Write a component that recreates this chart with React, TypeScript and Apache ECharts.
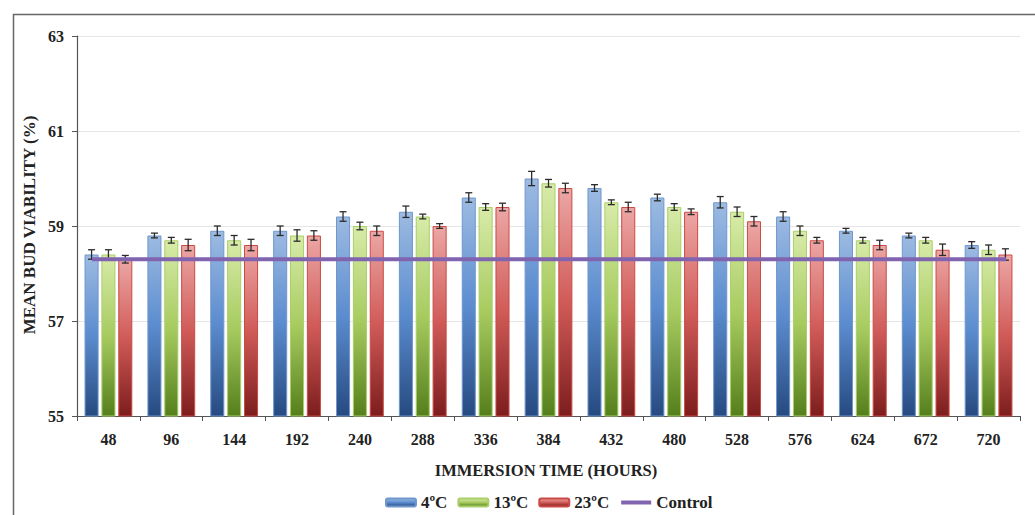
import React, { useEffect, useRef } from "react";
import * as echarts from "echarts";

const categories = ["48", "96", "144", "192", "240", "288", "336", "384", "432", "480", "528", "576", "624", "672", "720"];
const s4 = [58.4, 58.8, 58.9, 58.9, 59.2, 59.3, 59.6, 60.0, 59.8, 59.6, 59.5, 59.2, 58.9, 58.8, 58.6];
const s13 = [58.4, 58.7, 58.7, 58.8, 59.0, 59.2, 59.4, 59.9, 59.5, 59.4, 59.3, 58.9, 58.7, 58.7, 58.5];
const s23 = [58.3, 58.6, 58.6, 58.8, 58.9, 59.0, 59.4, 59.8, 59.4, 59.3, 59.1, 58.7, 58.6, 58.5, 58.4];
const e4 = [0.1, 0.05, 0.1, 0.1, 0.1, 0.12, 0.1, 0.15, 0.07, 0.07, 0.12, 0.1, 0.05, 0.05, 0.07];
const e13 = [0.1, 0.06, 0.1, 0.12, 0.08, 0.05, 0.07, 0.08, 0.05, 0.07, 0.1, 0.1, 0.06, 0.06, 0.1];
const e23 = [0.08, 0.12, 0.12, 0.1, 0.1, 0.05, 0.08, 0.1, 0.1, 0.06, 0.1, 0.06, 0.1, 0.12, 0.12];
const control = [58.3, 58.3, 58.3, 58.3, 58.3, 58.3, 58.3, 58.3, 58.3, 58.3, 58.3, 58.3, 58.3, 58.3, 58.3];
const seriesNames = ["4ºC", "13ºC", "23ºC"];
const yTicks = { min: 55, max: 63, interval: 2 };

const FONT = "'Liberation Serif', 'Times New Roman', serif";
const CAT_GAP = 0.24;
const BAR_GAP = 0.2;

function grad(top: string, mid: string, bottom: string) {
  return new echarts.graphic.LinearGradient(0, 0, 0, 1, [
    { offset: 0, color: top },
    { offset: 0.5, color: mid },
    { offset: 1, color: bottom },
  ]);
}

export default function App() {
  const ref = useRef<HTMLDivElement>(null);
  useEffect(() => {
    if (!ref.current) return;
    const chart = echarts.init(ref.current, null, { renderer: "svg" });
    const values = [s4, s13, s23];
    const errs = [e4, e13, e23];
    const fills = [
      grad("#9dbbe2", "#5b8ccf", "#264a80"),
      grad("#d8eba9", "#a7cb5f", "#557f1c"),
      grad("#eca7a5", "#d05b58", "#7c1d1d"),
    ];
    const borders = ["#6f97cc", "#a9cf6a", "#cc4a45"];

    const barSeries = values.map((v, i) => ({
      name: seriesNames[i],
      type: "bar",
      data: v,
      barGap: BAR_GAP * 100 + "%",
      barCategoryGap: CAT_GAP * 100 + "%",
      itemStyle: { color: fills[i], borderColor: borders[i], borderWidth: 1 },
      xAxisIndex: 0,
      yAxisIndex: 0,
    }));

    const errSeries = values.map((v, i) => ({
      type: "custom",
      name: "err" + i,
      xAxisIndex: 0,
      yAxisIndex: 0,
      z: 5,
      data: v.map((val, j) => [j, val - errs[i][j], val + errs[i][j]]),
      renderItem: (params: any, api: any) => {
        const band = api.size([1, 0])[0];
        const usable = band * (1 - CAT_GAP);
        const bw = usable / (3 + 2 * BAR_GAP);
        const off = (i - 1) * bw * (1 + BAR_GAP);
        const lo = api.coord([api.value(0), api.value(1)]);
        const hi = api.coord([api.value(0), api.value(2)]);
        const x = lo[0] + off;
        const cap = 3.5;
        const style = { stroke: "#2b2b2b", lineWidth: 1.3 };
        return {
          type: "group",
          children: [
            { type: "line", shape: { x1: x, y1: lo[1], x2: x, y2: hi[1] }, style },
            { type: "line", shape: { x1: x - cap, y1: lo[1], x2: x + cap, y2: lo[1] }, style },
            { type: "line", shape: { x1: x - cap, y1: hi[1], x2: x + cap, y2: hi[1] }, style },
          ],
        };
      },
    }));

    chart.setOption({
      animation: false,
      backgroundColor: "#ffffff",
      grid: [
        { left: 77, right: 15, top: 36, height: 380 },
        { left: 92, right: 29, top: 36, height: 380 },
      ],
      xAxis: [
        {
          type: "category",
          gridIndex: 0,
          data: categories,
          axisLine: { lineStyle: { color: "#555", width: 1.2 } },
          axisTick: { show: true, length: 5, lineStyle: { color: "#555" } },
          axisLabel: { fontFamily: FONT, fontWeight: "bold", fontSize: 16, color: "#222", margin: 15 },
        },
        {
          type: "category",
          gridIndex: 1,
          data: categories,
          boundaryGap: false,
          show: false,
        },
      ],
      yAxis: [
        {
          type: "value",
          gridIndex: 0,
          min: yTicks.min,
          max: yTicks.max,
          interval: yTicks.interval,
          axisLine: { show: true, lineStyle: { color: "#555", width: 1.2 } },
          axisTick: { show: true, length: 5, lineStyle: { color: "#555" } },
          axisLabel: { fontFamily: FONT, fontWeight: "bold", fontSize: 16, color: "#222", margin: 13 },
          splitLine: { lineStyle: { color: "#e6e6e6", width: 1 } },
        },
        {
          type: "value",
          gridIndex: 1,
          min: yTicks.min,
          max: yTicks.max,
          interval: yTicks.interval,
          show: false,
          splitLine: { show: false },
        },
      ],
      legend: {
        top: 494,
        left: 385,
        padding: 0,
        data: [
          ...seriesNames,
          { name: "Control", itemStyle: { opacity: 0 }, lineStyle: { width: 4, color: "#8064b0" } },
        ],
        itemWidth: 30,
        itemHeight: 8,
        itemGap: 10,
        textStyle: { fontFamily: FONT, fontWeight: "bold", fontSize: 17, color: "#222" },
      },
      graphic: [
        {
          type: "rect",
          shape: { x: 13.5, y: 14.5, width: 1040, height: 520 },
          style: { fill: "none", stroke: "#666", lineWidth: 1.5 },
          silent: true,
        },
        {
          type: "text",
          x: 29,
          y: 225,
          rotation: Math.PI / 2,
          style: {
            text: "MEAN BUD VIABILITY (%)",
            fontFamily: FONT,
            fontWeight: "bold",
            fontSize: 17,
            fill: "#222",
            textAlign: "center",
            textVerticalAlign: "middle",
          },
        },
        {
          type: "text",
          x: 546,
          y: 470,
          style: {
            text: "IMMERSION TIME (HOURS)",
            fontFamily: FONT,
            fontWeight: "bold",
            fontSize: 16.5,
            fill: "#222",
            textAlign: "center",
            textVerticalAlign: "middle",
          },
        },
      ],
      series: [
        ...barSeries,
        ...errSeries,
        {
          name: "Control",
          type: "line",
          xAxisIndex: 1,
          yAxisIndex: 1,
          data: control,
          symbol: "none",
          z: 10,
          lineStyle: { color: "#8064b0", width: 4 },
          itemStyle: { color: "#8064b0" },
        },
      ],
    } as any);
    return () => chart.dispose();
  }, []);
  return (
    <div
      ref={ref}
      style={{ position: "fixed", left: 0, top: 0, width: 1035, height: 515 }}
    />
  );
}
